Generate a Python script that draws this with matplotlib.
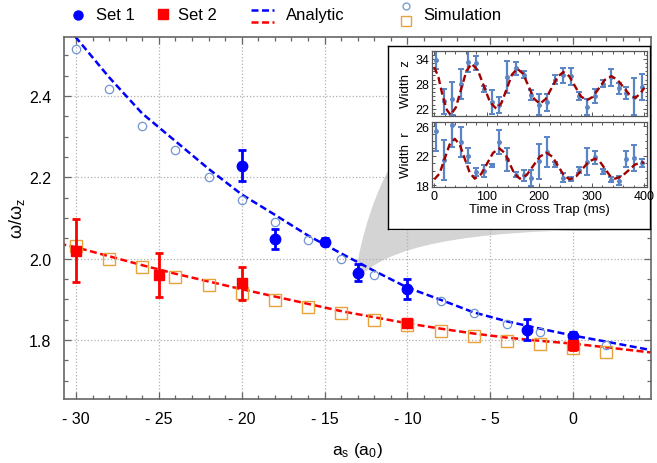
import matplotlib
matplotlib.use('Agg')
import matplotlib.pyplot as plt
from matplotlib.lines import Line2D
from matplotlib.patches import PathPatch
from matplotlib.path import Path
from matplotlib.ticker import MultipleLocator, FixedLocator

plt.rcParams['font.family'] = ['Liberation Sans', 'DejaVu Sans']
plt.rcParams['mathtext.fontset'] = 'custom'
plt.rcParams['mathtext.rm'] = 'Liberation Sans'
plt.rcParams['mathtext.it'] = 'Liberation Sans:italic'

# ---- main panel data ----
set1_x = [-20, -18, -15, -13, -10, -2.8, 0]
set1_y = [2.228, 2.049, 2.042, 1.966, 1.926, 1.825, 1.809]
set1_err = [0.038, 0.025, 0.008, 0.022, 0.024, 0.026, 0.010]

set2_x = [-30, -25, -20, -10, 0]
set2_y = [2.020, 1.961, 1.939, 1.841, 1.788]
set2_err = [0.078, 0.054, 0.040, 0.010, 0.012]

sim_x = [-30, -28, -26, -24, -22, -20, -18, -16, -14, -12, -10, -8, -6, -4, -2, 0, 2]
sim1_y = [2.516, 2.418, 2.325, 2.267, 2.200, 2.144, 2.091, 2.047, 2.000, 1.961,
          1.928, 1.895, 1.866, 1.839, 1.819, 1.805, 1.788]
sim2_y = [2.031, 2.000, 1.979, 1.956, 1.935, 1.915, 1.898, 1.881, 1.866, 1.849,
          1.838, 1.822, 1.811, 1.798, 1.790, 1.780, 1.770]

ana_x = [-31, -30, -28, -26, -24, -22, -20, -18, -16, -14, -12, -10, -8, -6, -4, -2, 0, 2, 5]
ana1_y = [2.58, 2.544, 2.446, 2.357, 2.289, 2.221, 2.158, 2.108, 2.057, 2.013, 1.970,
          1.929, 1.899, 1.868, 1.846, 1.828, 1.811, 1.796, 1.773]
ana2_y = [2.037, 2.028, 2.006, 1.984, 1.963, 1.944, 1.925, 1.907, 1.889, 1.871, 1.856,
          1.841, 1.828, 1.816, 1.806, 1.798, 1.791, 1.782, 1.768]

xticks = [-30, -25, -20, -15, -10, -5, 0]
xtick_labels = ['- 30', '- 25', '- 20', '- 15', '- 10', '- 5', '0']
yticks = [1.8, 2.0, 2.2, 2.4]

# ---- inset data ----
t_pts = [4, 19, 34, 50, 64, 79, 95, 110, 124, 139, 155, 170, 185, 200, 215, 230, 246,
         260, 276, 290, 306, 321, 337, 351, 365, 381, 395]
wz = [33.8, 23.8, 24.4, 28.0, 33.3, 32.9, 26.7, 23.7, 22.9, 29.6, 31.7, 30.2, 25.2, 23.0,
      23.5, 29.0, 30.0, 29.8, 25.1, 22.4, 25.1, 28.0, 29.5, 26.9, 25.8, 24.9, 27.2]
wz_err = [2.3, 3.0, 4.0, 3.6, 2.5, 1.7, 0.7, 2.9, 1.9, 3.8, 1.5, 0.8, 1.2, 2.6, 2.1, 1.0,
          1.8, 2.0, 0.9, 1.9, 1.7, 0.8, 2.1, 1.3, 1.4, 4.5, 3.2]
wr = [25.4, 21.4, 26.2, 23.9, 22.0, 19.8, 19.9, 20.7, 23.9, 21.5, 19.45, 19.35, 19.0, 21.25,
      22.5, 20.85, 19.05, 18.9, 20.1, 21.2, 21.8, 19.9, 18.75, 18.6, 21.6, 21.7, 21.0]
wr_err = [2.7, 2.7, 3.0, 2.0, 1.0, 0.5, 0.8, 0.25, 1.6, 1.5, 0.35, 0.7, 1.1, 2.35, 2.0, 0.35,
          0.55, 0.25, 0.4, 1.8, 0.9, 0.35, 0.35, 0.6, 1.1, 1.7, 0.55]

fitz_t = [0, 8, 16, 24, 31, 41, 51, 61, 71, 83, 94.5, 106, 118, 128, 138, 148, 158, 169,
          179.5, 190, 201, 212, 223.5, 235, 246, 257, 268, 279, 290, 302, 313.5, 325, 337,
          348.5, 360, 371.5, 383, 392, 400]
fitz = [32.0, 29.5, 25.0, 21.7, 20.5, 22.3, 26.65, 31.0, 32.8, 31.2, 27.4, 23.6, 22.0, 23.4,
        26.8, 30.2, 31.6, 30.4, 27.4, 24.4, 23.2, 24.3, 27.0, 29.7, 30.8, 29.8, 27.4, 25.0,
        24.0, 24.85, 26.9, 28.95, 29.8, 29.0, 27.2, 25.4, 24.6, 25.6, 27.0]
fitr_t = [0, 10, 19.5, 29, 39, 48.5, 58, 67.5, 77, 89, 100.5, 112, 124, 134, 143.5, 153, 163,
          176, 188.5, 201, 214, 225, 236, 247, 258, 270, 282, 294, 306, 315.5, 325, 334.5,
          344, 357, 369.5, 382, 395, 400]
fitr = [18.8, 19.6, 21.55, 23.5, 24.3, 23.5, 21.6, 19.7, 18.9, 19.5, 20.95, 22.4, 23.0, 22.4,
        20.95, 19.5, 18.9, 19.4, 20.65, 21.9, 22.4, 21.87, 20.6, 19.33, 18.8, 19.2, 20.2,
        21.2, 21.6, 21.2, 20.25, 19.3, 18.9, 19.2, 20.0, 20.8, 21.1, 21.05]

W, H = 657, 464
fig = plt.figure(figsize=(W / 100, H / 100), dpi=100)


def px(x, y):
    return (x / W, 1 - y / H)


def box(l, t, r, b):
    return [l / W, 1 - b / H, (r - l) / W, (b - t) / H]


frame_col = '#666666'

ax = fig.add_axes(box(64, 38, 651, 400))
ax.set_xlim(-30.72, 4.7)
ax.set_ylim(1.655, 2.545)
ax.set_axisbelow(True)
ax.grid(True, which='major', color='#b0b0b0', linestyle=':', linewidth=0.9)

ax.plot(ana_x, ana1_y, color='#0000ff', lw=1.8, linestyle=(0, (2.8, 1.4)), zorder=2)
ax.plot(ana_x, ana2_y, color='#ff0000', lw=1.8, linestyle=(0, (2.8, 1.4)), zorder=2)
ax.plot(sim_x, sim1_y, 'o', mfc='none', mec='#7095cf', ms=6, mew=0.9, zorder=3)
ax.plot(sim_x, sim2_y, 's', mfc='none', mec='#e8a23a', ms=8, mew=1.0, zorder=3)
ax.errorbar(set1_x, set1_y, yerr=set1_err, fmt='o', color='#0000ff', ms=7.5,
            elinewidth=2, capsize=3, capthick=2, zorder=4)
ax.errorbar(set2_x, set2_y, yerr=set2_err, fmt='s', color='#ff0000', ms=7.5,
            elinewidth=2, capsize=3, capthick=2, zorder=4)

ax.set_xticks(xticks)
ax.set_xticklabels(xtick_labels)
ax.set_yticks(yticks)
ax.set_yticklabels(['%.1f' % v for v in yticks])
ax.xaxis.set_minor_locator(MultipleLocator(1))
ax.yaxis.set_minor_locator(MultipleLocator(0.05))
ax.tick_params(which='both', direction='in', top=True, right=True, color=frame_col,
               labelsize=11.5, width=0.9)
ax.tick_params(which='major', length=5, pad=9)
ax.tick_params(which='minor', length=3)
for s in ax.spines.values():
    s.set_color(frame_col)
    s.set_linewidth(1.2)
ax.set_xlabel('a$_\\mathrm{s}$ (a$_\\mathrm{0}$)', fontsize=12.5, labelpad=10)
ax.set_ylabel('ω/ω$_\\mathrm{z}$', fontsize=13, va='center')
ax.yaxis.set_label_coords(-47 / 587, 0.5)

# grey zoom wedge from the point at a_s = -13 to the inset
verts = [px(355, 283), px(357, 255), px(370, 205), px(388, 172),
         px(388, 232), px(600, 232), px(600, 230.5),
         px(470, 233), px(385, 245), px(355, 283)]
codes = [Path.MOVETO, Path.CURVE4, Path.CURVE4, Path.CURVE4,
         Path.LINETO, Path.LINETO, Path.LINETO,
         Path.CURVE4, Path.CURVE4, Path.CURVE4]
ax.add_patch(PathPatch(Path(verts, codes), transform=fig.transFigure,
                       facecolor='#d4d4d4', edgecolor='none', zorder=0.3))

# inset frame
axb = fig.add_axes(box(388, 47, 650, 230))
axb.set_xticks([])
axb.set_yticks([])
axb.set_facecolor('white')
for s in axb.spines.values():
    s.set_color('black')
    s.set_linewidth(1.0)

err_col = '#5b84c4'
fit_col = '#a00000'
ax1 = fig.add_axes(box(432, 52, 646.5, 116.5))
ax2 = fig.add_axes(box(432, 123, 646.5, 188))
for a, t, y, e, ft, fy in [(ax1, t_pts, wz, wz_err, fitz_t, fitz),
                          (ax2, t_pts, wr, wr_err, fitr_t, fitr)]:
    a.errorbar(t, y, yerr=e, fmt='o', color=err_col, ms=2.5, elinewidth=1.6,
               capsize=2, capthick=1.4, zorder=2)
    a.plot(ft, fy, color=fit_col, lw=1.7, linestyle=(0, (3, 1.6)), zorder=3)
    a.set_xlim(-4.4, 404.2)
    a.xaxis.set_major_locator(FixedLocator([0, 100, 200, 300, 400]))
    a.xaxis.set_minor_locator(MultipleLocator(20))
    a.tick_params(which='both', direction='in', top=True, right=True, color='#555555',
                  labelsize=9, pad=2, width=0.7)
    a.tick_params(which='major', length=3)
    a.tick_params(which='minor', length=1.8)
    for s in a.spines.values():
        s.set_color('#555555')
        s.set_linewidth(0.9)

ax1.set_ylim(20.37, 35.85)
ax1.set_yticks([22, 28, 34])
ax1.yaxis.set_minor_locator(MultipleLocator(1))
ax1.set_xticklabels([])
ax1.set_ylabel('Width  z', fontsize=9.5, labelpad=2)

ax2.set_ylim(17.77, 26.58)
ax2.set_yticks([18, 22, 26])
ax2.yaxis.set_minor_locator(MultipleLocator(1))
ax2.set_ylabel('Width  r', fontsize=9.5, labelpad=2)
ax2.set_xlabel('Time in Cross Trap (ms)', fontsize=9.5, labelpad=1)

# legend across the top
fig.add_artist(Line2D([78 / W], [1 - 16 / H], marker='o', color='#0000ff', ms=6.5,
                      transform=fig.transFigure))
fig.text(96 / W, 1 - 15.5 / H, 'Set 1', fontsize=12, va='center')
fig.add_artist(Line2D([163 / W], [1 - 15 / H], marker='s', color='#ff0000', ms=6.5,
                      transform=fig.transFigure))
fig.text(178 / W, 1 - 15.5 / H, 'Set 2', fontsize=12, va='center')
fig.add_artist(Line2D([251 / W, 274 / W], [1 - 11 / H] * 2, color='#0000ff', lw=1.8,
                      linestyle=(0, (2.8, 1.4)), transform=fig.transFigure))
fig.add_artist(Line2D([251 / W, 274 / W], [1 - 23 / H] * 2, color='#ff0000', lw=1.8,
                      linestyle=(0, (2.8, 1.4)), transform=fig.transFigure))
fig.text(286 / W, 1 - 15.5 / H, 'Analytic', fontsize=12, va='center')
fig.add_artist(Line2D([406 / W], [1 - 7 / H], marker='o', mfc='none', mec='#7095cf', ms=5,
                      mew=0.9, transform=fig.transFigure))
fig.add_artist(Line2D([406 / W], [1 - 22 / H], marker='s', mfc='none', mec='#e8a23a', ms=6.5,
                      mew=1.0, transform=fig.transFigure))
fig.text(423 / W, 1 - 15.5 / H, 'Simulation', fontsize=12, va='center')

fig.savefig('out.png', dpi=100)
